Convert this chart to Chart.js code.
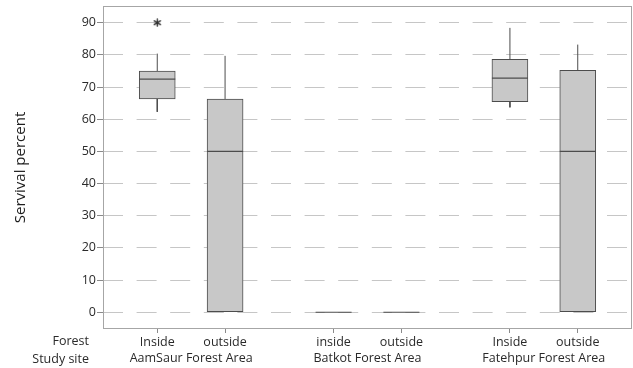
<!DOCTYPE html>
<html>
<head>
<meta charset="utf-8">
<script src="https://cdn.jsdelivr.net/npm/chart.js@4.4.1/dist/chart.umd.min.js"></script>
<style>
  html, body { margin: 0; padding: 0; background: #ffffff; }
  #wrap { width: 633px; height: 368px; position: relative; }
</style>
</head>
<body>
<div id="wrap"><canvas id="c"></canvas></div>
<script>
// Survival percent by forest position within each study site
const studySites   = ['AamSaur Forest Area', 'Batkot Forest Area', 'Fatehpur Forest Area'];
const forestLabels = ['Inside', 'outside', 'inside', 'outside', 'Inside', 'outside'];
const siteOfBox    = [0, 0, 1, 1, 2, 2];

const whiskerLow  = [62.3, 0, 0, 0, 63.7, 0];
const q1          = [66.3, 0, 0, 0, 65.5, 0];
const median      = [72.5, 50, 0, 0, 72.8, 50];
const q3          = [75.0, 66.3, 0, 0, 78.6, 75.2];
const whiskerHigh = [80.4, 79.7, 0, 0, 88.4, 83.2];

const outlierBox   = [0];
const outlierValue = [90];

const yLabelTicks = [0, 10, 20, 30, 40, 50, 60, 70, 80, 90];
const yGridTicks  = [0, 5, 10, 15, 20, 25, 30, 35, 40, 45, 50, 55, 60, 65, 70, 75, 80, 85, 90];

// x placement: two boxes per site, with a wider gap between sites
const SITE_SPACING = 2.6;
const boxX = forestLabels.map((_, i) => 1 + siteOfBox[i] * SITE_SPACING + (i % 2));
const siteX = studySites.map((_, s) => 1.5 + s * SITE_SPACING);

const INK = '#4c4c4c';
const TEXT = '#2a2a2a';
const FONT = 'Open Sans';
const LABEL_SIZE = 12.5;

const boxData = [];
const medianData = [];
const whiskerData = [];
boxX.forEach((x, i) => {
  if (q3[i] > q1[i]) boxData.push({ x, y: [q1[i], q3[i]] });
  medianData.push({ x, y: median[i] });
  if (whiskerHigh[i] > q3[i]) {
    whiskerData.push({ x, y: q3[i] }, { x, y: whiskerHigh[i] }, { x, y: null });
  }
  if (whiskerLow[i] < q1[i]) {
    whiskerData.push({ x, y: q1[i] }, { x, y: whiskerLow[i] }, { x, y: null });
  }
});
const outlierData = outlierBox.map((b, k) => ({ x: boxX[b], y: outlierValue[k] }));

// six-armed asterisk used as the outlier symbol
const asterisk = (() => {
  const c = document.createElement('canvas');
  c.width = 9; c.height = 9;
  const g = c.getContext('2d');
  g.strokeStyle = '#2e2e2e';
  g.lineWidth = 1.4;
  g.lineCap = 'round';
  for (let k = 0; k < 3; k++) {
    const a = Math.PI / 2 + k * Math.PI / 3;
    g.beginPath();
    g.moveTo(4.5 - 3.6 * Math.cos(a), 4.5 - 3.6 * Math.sin(a));
    g.lineTo(4.5 + 3.6 * Math.cos(a), 4.5 + 3.6 * Math.sin(a));
    g.stroke();
  }
  return c;
})();

// axes keep the plot area fixed: no extra room reserved for edge labels
const noEdgePadding = s => {
  s.paddingLeft = 0; s.paddingRight = 0; s.paddingTop = 0; s.paddingBottom = 0;
};

// frame around the plot and the row headers for the two label rows
const framePlugin = {
  id: 'frame',
  beforeDatasetsDraw(chart) {
    const { ctx, chartArea: a } = chart;
    ctx.save();
    ctx.strokeStyle = '#a6a6a6';
    ctx.lineWidth = 1;
    ctx.strokeRect(a.left + 0.5, a.top + 0.5, a.right - a.left - 1, a.bottom - a.top - 1);
    ctx.restore();
  },
  afterDraw(chart) {
    const { ctx, chartArea: a } = chart;
    ctx.save();
    ctx.fillStyle = TEXT;
    ctx.font = LABEL_SIZE + 'px "' + FONT + '"';
    ctx.textAlign = 'right';
    ctx.textBaseline = 'middle';
    const xr = a.left - 14;
    ctx.fillText('Forest', xr, chart.scales.x.top + 12.5);
    ctx.fillText('Study site', xr, chart.scales.x2.top + 10);
    ctx.restore();
  }
};

new Chart(document.getElementById('c'), {
  type: 'scatter',
  data: {
    datasets: [
      {
        type: 'scatter',
        label: 'outlier',
        data: outlierData,
        pointStyle: asterisk,
        pointRadius: 4.5,
        order: 0
      },
      {
        type: 'scatter',
        label: 'median',
        data: medianData,
        pointStyle: 'line',
        pointRadius: 18,
        borderColor: INK,
        borderWidth: 1.2,
        showLine: false,
        order: 1
      },
      {
        type: 'scatter',
        label: 'whiskers',
        data: whiskerData,
        showLine: true,
        spanGaps: false,
        pointRadius: 0,
        borderColor: INK,
        borderWidth: 1,
        order: 2
      },
      {
        type: 'bar',
        label: 'box',
        data: boxData,
        backgroundColor: '#c8c8c8',
        borderColor: INK,
        borderWidth: 1,
        borderSkipped: false,
        barThickness: 36,
        order: 3
      }
    ]
  },
  options: {
    responsive: true,
    maintainAspectRatio: false,
    animation: false,
    devicePixelRatio: 1,
    layout: { autoPadding: false, padding: { left: 0, right: 1, top: 6, bottom: 0 } },
    plugins: { legend: { display: false }, tooltip: { enabled: false } },
    scales: {
      x: {
        type: 'linear',
        position: 'bottom',
        min: 0.2,
        max: 8.0,
        offset: false,
        afterBuildTicks: s => { s.ticks = boxX.map(v => ({ value: v })); },
        afterFit: s => { s.height = 20; noEdgePadding(s); },
        ticks: {
          autoSkip: false,
          maxRotation: 0,
          padding: 2,
          color: TEXT,
          font: { family: FONT, size: LABEL_SIZE },
          callback: (v, i) => forestLabels[i]
        },
        grid: { offset: false, drawOnChartArea: false, drawTicks: true, tickLength: 4, tickColor: '#8a8a8a' },
        border: { display: false }
      },
      x2: {
        type: 'linear',
        position: 'bottom',
        min: 0.2,
        max: 8.0,
        offset: false,
        afterBuildTicks: s => { s.ticks = siteX.map(v => ({ value: v })); },
        afterFit: s => { s.height = 19; noEdgePadding(s); },
        ticks: {
          autoSkip: false,
          maxRotation: 0,
          padding: 2,
          color: TEXT,
          font: { family: FONT, size: LABEL_SIZE },
          callback: (v, i) => studySites[i]
        },
        grid: { display: false, drawTicks: false },
        border: { display: false }
      },
      y: {
        type: 'linear',
        min: -5.2,
        max: 95.2,
        afterBuildTicks: s => { s.ticks = yGridTicks.map(v => ({ value: v })); },
        afterFit: s => { s.width = 103; noEdgePadding(s); },
        ticks: {
          padding: 1,
          color: TEXT,
          font: { family: FONT, size: LABEL_SIZE },
          callback: v => (yLabelTicks.includes(v) ? String(v) : '')
        },
        grid: {
          color: '#c6c6c6',
          lineWidth: 1,
          drawTicks: true,
          tickLength: 6,
          tickBorderDash: [],
          tickColor: c => (yLabelTicks.includes(c.tick && c.tick.value) ? '#8a8a8a' : 'rgba(0,0,0,0)')
        },
        border: { display: false, dash: [20, 13.6] },
        title: {
          display: true,
          text: 'Servival percent',
          color: '#1e1e1e',
          font: { family: FONT, size: 15 },
          padding: { top: 12, bottom: 0 }
        }
      }
    }
  },
  plugins: [framePlugin]
});
</script>
</body>
</html>
